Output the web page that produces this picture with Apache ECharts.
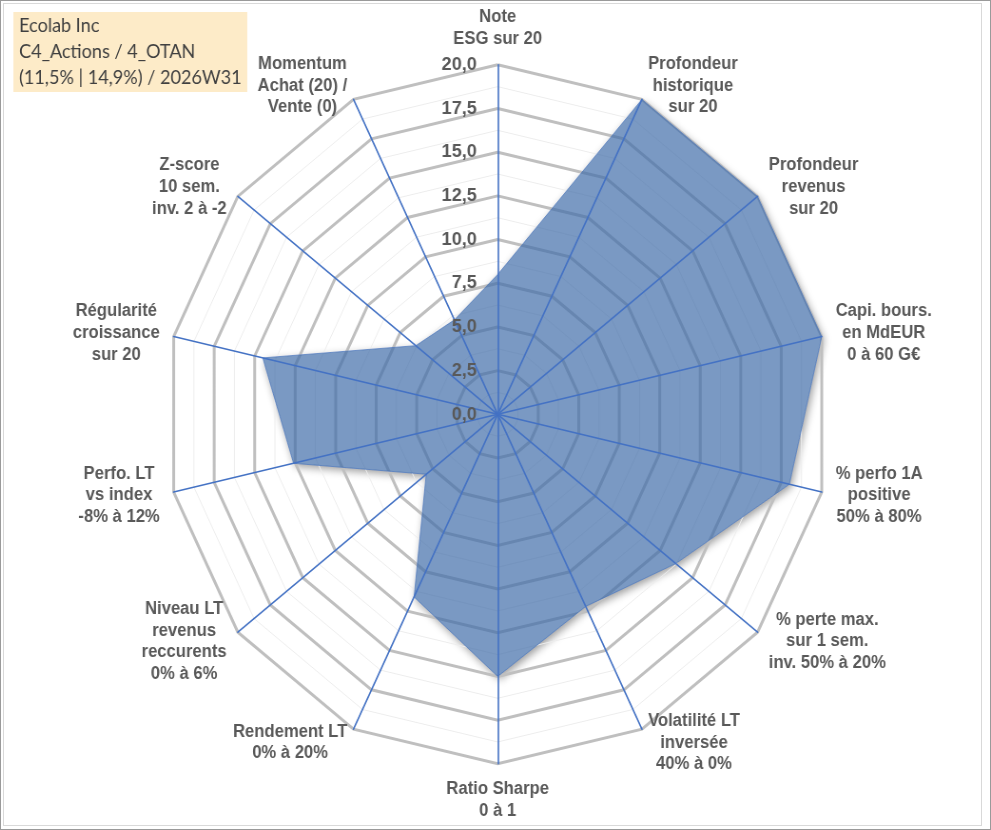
<!DOCTYPE html>
<html>
<head>
<meta charset="utf-8">
<title>Ecolab Inc - radar</title>
<script src="https://cdn.jsdelivr.net/npm/echarts@6.0.0/dist/echarts.min.js"></script>
<style>
  html, body { margin: 0; padding: 0; background: #fff; }
  #frame { position: absolute; left: 0; top: 0; width: 991px; height: 830px; box-sizing: border-box; border: 1px solid #9a9a9a; overflow: hidden; }
  #plot { position: absolute; left: 2px; top: 2px; width: 979px; height: 823px; box-sizing: border-box; border: 1px solid #d9d9d9; }
  /* the source picture is squeezed horizontally: draw wider, then scale */
  #chart { position: absolute; left: 0; top: 0; width: 1042px; height: 828px; transform: scaleX(0.951); transform-origin: 0 0; }
</style>
</head>
<body>
<div id="frame"><div id="plot"></div><div id="chart"></div></div>
<script>
(() => {
  const SX = 0.951;

  // ── Data (clockwise from the top, as in the sheet) ──────────────────────
  const axisNames = [
    'Note\nESG sur 20',
    'Profondeur\nhistorique\nsur 20',
    'Profondeur\nrevenus\nsur 20',
    'Capi. bours.\nen MdEUR\n0 à 60 G€',
    '% perfo 1A\npositive\n50% à 80%',
    '% perte max.\nsur 1 sem.\ninv. 50% à 20%',
    'Volatilité LT\ninversée\n40% à 0%',
    'Ratio Sharpe\n0 à 1',
    'Rendement LT\n0% à 20%',
    'Niveau LT\nrevenus\nreccurents\n0% à 6%',
    'Perfo. LT\nvs index\n-8% à 12%',
    'Régularité\ncroissance\nsur 20',
    'Z-score\n10 sem.\ninv. 2 à -2',
    'Momentum\nAchat (20) /\nVente (0)',
  ];
  const scores = [8, 20, 20, 20, 18, 13.7, 12.2, 15, 11.6, 5.5, 12.6, 14.5, 6.3, 6];
  const tickLabels = ['0,0', '2,5', '5,0', '7,5', '10,0', '12,5', '15,0', '17,5', '20,0'];
  const titleLines = ['Ecolab Inc', 'C4_Actions / 4_OTAN', '(11,5% | 14,9%) / 2026W31'];
  const scoreMin = 0;
  const scoreMax = 20;

  // ── Helpers ─────────────────────────────────────────────────────────────
  const FONT = '"Liberation Sans", Arial, sans-serif';
  const GREY_TXT = '#595959';

  // ECharts places indicators counter-clockwise, the sheet goes clockwise
  const n = axisNames.length;
  const order = axisNames.map((_, i) => (n - i) % n);
  const indicators = order.map(i => ({ name: axisNames[i], min: scoreMin, max: scoreMax }));
  const values = order.map(i => scores[i]);

  const center = [(497.7 - 1) / SX, 413.3];
  const radius = 349.5;

  function radarBase(extra) {
    return Object.assign({
      center, radius,
      startAngle: 90,
      shape: 'polygon',
      indicator: indicators,
      axisName: { show: false },
      axisLabel: { show: false },
      axisTick: { show: false },
      axisLine: { show: false },
      splitLine: { show: false },
      splitArea: { show: false },
      silent: true,
    }, extra);
  }

  const labelStyle = {
    show: true,
    margin: 22,
    fontFamily: FONT,
    fontSize: 19,
    fontWeight: 'bold',
    color: GREY_TXT,
    formatter: (v, i) => tickLabels[i] ?? '',
  };

  const topIndicators = indicators.map((ind, i) =>
    i === 0 ? Object.assign({}, ind, { axisLabel: labelStyle }) : ind);

  const chart = echarts.init(document.getElementById('chart'), null, { renderer: 'canvas' });

  chart.setOption({
    animation: false,
    backgroundColor: 'transparent',
    title: {
      text: titleLines.join('\n'),
      left: 13, top: 11,
      padding: [1, 6, 1, 6],
      backgroundColor: '#FDEBC8',
      textStyle: { fontFamily: 'Lato, "Open Sans", sans-serif', fontSize: 19, fontWeight: 'normal', color: '#404040', lineHeight: 26 },
    },
    radar: [
      // minor rings
      radarBase({ z: 1, splitNumber: 16, splitLine: { show: true, lineStyle: { color: '#EDEDED', width: 1 } } }),
      // major rings
      radarBase({ z: 1, splitNumber: 8, splitLine: { show: true, lineStyle: { color: '#BFBFBF', width: 3 } } }),
      // spokes, names and tick labels over the area
      radarBase({
        z: 3,
        splitNumber: 8,
        indicator: topIndicators,
        axisLine: { show: true, lineStyle: { color: '#4472C4', width: 1.6 } },
        axisLabel: Object.assign({}, labelStyle, { show: false }),
        axisNameGap: 15,
        axisName: {
          show: true,
          fontFamily: FONT, fontSize: 17.5, fontWeight: 'bold', color: GREY_TXT, lineHeight: 21.7,
          formatter: name => name.split('\n').map(l => `{c|${l}}`).join('\n'),
          rich: { c: { align: 'center', fontFamily: FONT, fontSize: 17.5, fontWeight: 'bold', color: GREY_TXT, lineHeight: 21.7 } },
        },
      }),
    ],
    series: [
      // white underlay that only casts the drop shadow (kept under the rings)
      {
        type: 'radar',
        radarIndex: 1,
        z: 0,
        symbol: 'none',
        silent: true,
        lineStyle: { width: 0 },
        areaStyle: {
          color: '#ffffff', opacity: 1,
          shadowBlur: 8, shadowColor: 'rgba(0,0,0,0.4)', shadowOffsetX: 2, shadowOffsetY: 3,
        },
        data: [{ value: values, name: 'shadow' }],
      },
      {
        type: 'radar',
        radarIndex: 1,
        z: 2,
        symbol: 'none',
        silent: true,
        lineStyle: { color: 'rgba(68,114,196,0.85)', width: 0.8 },
        areaStyle: { color: 'rgba(65,110,170,0.70)', opacity: 1 },
        data: [{ value: values, name: 'Ecolab Inc' }],
      },
    ],
  });
})();
</script>
</body>
</html>
